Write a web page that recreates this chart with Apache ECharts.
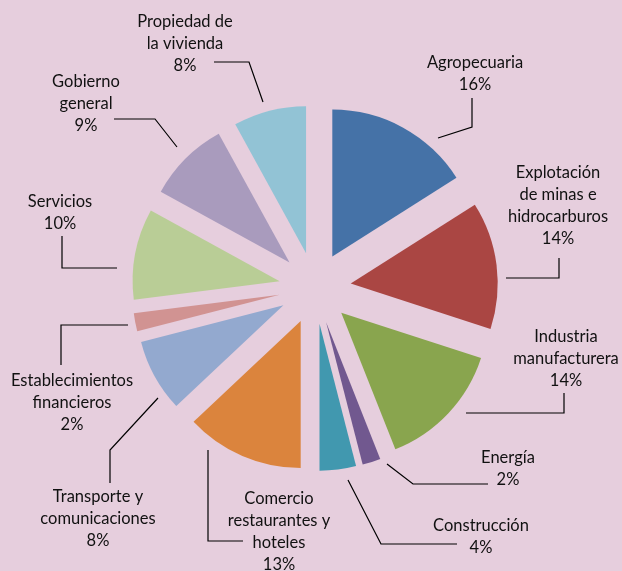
<!DOCTYPE html>
<html>
<head>
<meta charset="utf-8">
<script src="https://cdn.jsdelivr.net/npm/echarts@6/dist/echarts.min.js"></script>
<style>
    html, body { margin: 0; padding: 0; background: #E6CEDD; }
    #chart { width: 622px; height: 571px; }
</style>
</head>
<body>
<div id="chart"></div>
<script>
'use strict';

// Sectors, clockwise from the top
const categories = [
    'Agropecuaria',
    'Explotación\nde minas e\nhidrocarburos',
    'Industria\nmanufacturera',
    'Energía',
    'Construcción',
    'Comercio\nrestaurantes y\nhoteles',
    'Transporte y\ncomunicaciones',
    'Establecimientos\nfinancieros',
    'Servicios',
    'Gobierno\ngeneral',
    'Propiedad de\nla vivienda'
];
const shares = [16, 14, 14, 2, 4, 13, 8, 2, 10, 9, 8];

const colors = [
    '#4572A7', '#AA4643', '#89A54E', '#71588F', '#4198AF', '#DB843D',
    '#93A9CF', '#D19392', '#B9CD96', '#A99BBD', '#92C3D5'
];

// label placement: text centre / top of first line, and the leader line
const labelSpots = [
    { x: 475, y: 52,  line: [[438, 138], [472, 127], [472, 98]] },
    { x: 558, y: 162, line: [[506, 278], [559, 278], [559, 258]] },
    { x: 566, y: 326, line: [[466, 413], [564, 413], [564, 393]] },
    { x: 508, y: 447, line: [[387, 464], [413, 484], [488, 484]] },
    { x: 481, y: 515, line: [[348, 480], [381, 544], [457, 544]] },
    { x: 279, y: 488, line: [[208, 450], [208, 541], [243, 541]] },
    { x: 98,  y: 486, line: [[158, 398], [110, 450], [110, 483]] },
    { x: 72,  y: 370, line: [[128, 325], [61, 325], [61, 365]] },
    { x: 60,  y: 191, line: [[117, 268], [62, 268], [62, 236]] },
    { x: 86,  y: 71,  line: [[177, 147], [155, 119], [114, 119]] },
    { x: 185, y: 11,  line: [[263, 102], [249, 62], [214, 62]] }
];

const pieCenter = [315, 288];
const pieRadius = 147;

const chart = echarts.init(document.getElementById('chart'));

chart.setOption({
    backgroundColor: '#E6CEDD',
    animation: false,
    series: [{
        // exploded slices
        type: 'pie',
        center: pieCenter,
        radius: [0, pieRadius],
        startAngle: 90,
        clockwise: true,
        selectedMode: 'multiple',
        selectedOffset: 36,
        silent: true,
        itemStyle: { borderWidth: 0 },
        label: { show: false },
        labelLine: { show: false },
        data: categories.map((name, i) => ({
            name,
            value: shares[i],
            selected: true,
            itemStyle: { color: colors[i] }
        }))
    }, {
        // label carrier: same sectors, invisible, not exploded
        type: 'pie',
        center: pieCenter,
        radius: [0, pieRadius],
        startAngle: 90,
        clockwise: true,
        silent: true,
        avoidLabelOverlap: false,
        itemStyle: { color: 'rgba(0,0,0,0)', borderWidth: 0 },
        label: {
            show: true,
            position: 'outside',
            formatter: p => p.name + '\n' + p.value + '%',
            fontFamily: 'Lato',
            fontSize: 16.5,
            lineHeight: 22,
            color: '#111'
        },
        labelLine: {
            show: true,
            lineStyle: { color: '#000', width: 1.2 }
        },
        labelLayout: params => {
            const spot = labelSpots[params.dataIndex];
            return {
                x: spot.x,
                y: spot.y,
                align: 'center',
                verticalAlign: 'top',
                labelLinePoints: spot.line
            };
        },
        data: categories.map((name, i) => ({ name, value: shares[i] }))
    }]
});
</script>
</body>
</html>
